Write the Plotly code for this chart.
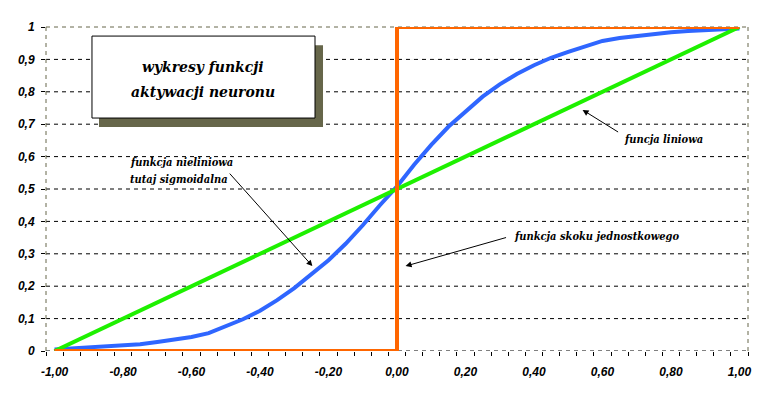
import plotly.graph_objects as go

# ---- data ----
x_cat = [-1.00, -0.95, -0.90, -0.85, -0.80, -0.75, -0.70, -0.65, -0.60, -0.55,
         -0.50, -0.45, -0.40, -0.35, -0.30, -0.25, -0.20, -0.15, -0.10, -0.05,
         0.00, 0.05, 0.10, 0.15, 0.20, 0.25, 0.30, 0.35, 0.40, 0.45,
         0.50, 0.55, 0.60, 0.65, 0.70, 0.75, 0.80, 0.85, 0.90, 0.95, 1.00]
sigmoid_y = [0.005, 0.008, 0.010, 0.012, 0.015, 0.021, 0.028, 0.034, 0.043, 0.055,
             0.076, 0.098, 0.124, 0.157, 0.194, 0.236, 0.280, 0.331, 0.388, 0.450,
             0.508, 0.575, 0.636, 0.692, 0.740, 0.785, 0.823, 0.855, 0.882, 0.905,
             0.923, 0.940, 0.957, 0.966, 0.973, 0.979, 0.984, 0.988, 0.991, 0.993, 0.995]
linear_x = [-1.00, 0.00, 1.00]
linear_y = [0.00, 0.50, 1.00]
step_x = [-1.00, 0.00, 0.00, 1.00]
step_y = [0.00, 0.00, 1.00, 1.00]

x_tick_vals = [-1.0, -0.8, -0.6, -0.4, -0.2, 0.0, 0.2, 0.4, 0.6, 0.8, 1.0]
x_tick_text = ["-1,00", "-0,80", "-0,60", "-0,40", "-0,20", "0,00", "0,20", "0,40", "0,60", "0,80", "1,00"]
y_tick_vals = [0, 0.1, 0.2, 0.3, 0.4, 0.5, 0.6, 0.7, 0.8, 0.9, 1.0]
y_tick_text = ["0", "0,1", "0,2", "0,3", "0,4", "0,5", "0,6", "0,7", "0,8", "0,9", "1"]

title_lines = ["wykresy funkcji", "aktywacji neuronu"]
label_sigmoid = ["funkcja nieliniowa", "tutaj sigmoidalna"]
label_step = "funkcja skoku jednostkowego"
label_linear = "funcja liniowa"

# ---- styles ----
BLUE = "#2F66FF"
GREEN = "#1EF000"
ORANGE = "#FF6600"
OLIVE = "#66664A"
SERIF = "DejaVu Serif Condensed, DejaVu Serif"
SANS = "Liberation Sans"


def bi(s):
    return "<b><i>" + s + "</i></b>"


fig = go.Figure()
fig.add_trace(go.Scatter(x=x_cat, y=sigmoid_y, mode="lines",
                         line=dict(color=BLUE, width=4), cliponaxis=False, showlegend=False))
fig.add_trace(go.Scatter(x=linear_x, y=linear_y, mode="lines",
                         line=dict(color=GREEN, width=4), cliponaxis=False, showlegend=False))
fig.add_trace(go.Scatter(x=step_x, y=step_y, mode="lines",
                         line=dict(color=ORANGE, width=4), cliponaxis=False, showlegend=False))

shapes = []
for v in y_tick_vals[:-1]:
    shapes.append(dict(type="line", xref="paper", yref="y", x0=0, x1=1, y0=v, y1=v,
                       line=dict(color="black", width=1, dash="4px,4px"), layer="below"))
shapes.append(dict(type="line", xref="paper", yref="paper", x0=0, x1=1, y0=1, y1=1,
                   line=dict(color=OLIVE, width=1, dash="4px,4px"), layer="below"))
shapes.append(dict(type="line", xref="paper", yref="paper", x0=0, x1=0, y0=0, y1=1,
                   line=dict(color=OLIVE, width=1, dash="4px,4px"), layer="below"))
shapes.append(dict(type="line", xref="paper", yref="paper", x0=1, x1=1, y0=0, y1=1,
                   line=dict(color=OLIVE, width=1, dash="4px,4px"), layer="below"))
shapes.append(dict(type="rect", xref="paper", yref="paper", x0=0.0755, x1=0.3946, y0=0.691, y1=0.944,
                   fillcolor=OLIVE, line=dict(width=0), layer="above"))
shapes.append(dict(type="rect", xref="paper", yref="paper", x0=0.0655, x1=0.3832, y0=0.719, y1=0.972,
                   fillcolor="white", line=dict(color="black", width=1), layer="above"))

tfont = dict(family=SERIF, size=15.5, color="black")
afont = dict(family=SERIF, size=11, color="black")

annotations = [
    dict(xref="paper", yref="paper", x=0.2236, y=0.877, text=bi(title_lines[0]), showarrow=False,
         font=tfont, xanchor="center", yanchor="middle"),
    dict(xref="paper", yref="paper", x=0.2236, y=0.802, text=bi(title_lines[1]), showarrow=False,
         font=tfont, xanchor="center", yanchor="middle"),
    dict(x=-0.787, y=0.583, text=bi(label_sigmoid[0]), showarrow=False, font=afont,
         xanchor="left", yanchor="middle"),
    dict(x=-0.787, y=0.528, text=bi(label_sigmoid[1]), showarrow=False, font=afont,
         xanchor="left", yanchor="middle"),
    dict(x=0.337, y=0.352, text=bi(label_step), showarrow=False, font=afont,
         xanchor="left", yanchor="middle"),
    dict(x=0.658, y=0.654, text=bi(label_linear), showarrow=False, font=afont,
         xanchor="left", yanchor="middle"),
    dict(x=-0.247, y=0.262, text="", showarrow=True, ax=-84, ay=-94,
         arrowhead=2, arrowsize=1.2, arrowwidth=1, arrowcolor="black"),
    dict(x=0.025, y=0.262, text="", showarrow=True, ax=102, ay=-29,
         arrowhead=2, arrowsize=1.2, arrowwidth=1, arrowcolor="black"),
    dict(x=0.542, y=0.744, text="", showarrow=True, ax=37, ay=23,
         arrowhead=2, arrowsize=1.2, arrowwidth=1, arrowcolor="black"),
]

tickfont = dict(family=SANS, size=12, color="black", weight="bold", style="italic")

# the page body adds an 8px offset, so the figure is sized/margined to compensate
fig.update_layout(
    width=755, height=388,
    margin=dict(l=38, r=15, t=19, b=45, autoexpand=False),
    paper_bgcolor="white", plot_bgcolor="white",
    shapes=shapes, annotations=annotations,
    xaxis=dict(range=[-1.025, 1.025], tickmode="array", tickvals=x_tick_vals, ticktext=x_tick_text,
               ticks="outside", ticklen=4, tickcolor="rgba(0,0,0,0)", ticklabelstandoff=6,
               showgrid=False, zeroline=False, showline=False, tickfont=tickfont, automargin=False,
               minor=dict(tickmode="linear", tick0=-1.025, dtick=0.05, ticks="outside",
                          ticklen=4, tickcolor="black", showgrid=False)),
    yaxis=dict(range=[0, 1], tickmode="array", tickvals=y_tick_vals, ticktext=y_tick_text,
               ticks="outside", ticklen=4, tickcolor="black", ticklabelstandoff=4,
               showgrid=False, zeroline=False, showline=False, tickfont=tickfont, automargin=False),
)

fig.write_html("out.html")
